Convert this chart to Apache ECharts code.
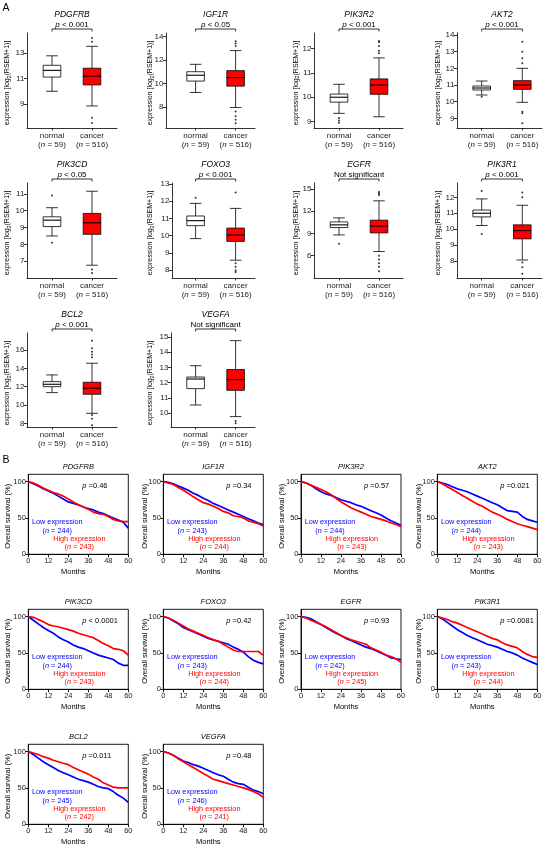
<!DOCTYPE html>
<html><head><meta charset="utf-8">
<script src="https://cdn.jsdelivr.net/npm/echarts@6/dist/echarts.min.js"></script>
<style>html,body{margin:0;padding:0;background:#fff}#c{width:550px;height:849px}</style>
</head><body><div id="c"></div><script>
const FONT = '"Liberation Sans", Arial, Helvetica, sans-serif';

// ---------- data ----------
const genes = ['PDGFRB','IGF1R','PIK3R2','AKT2','PIK3CD','FOXO3','EGFR','PIK3R1','BCL2','VEGFA'];
const groupNames = ['normal','cancer'];
const groupN = [59, 516];
const pTextsA = ['p < 0.001','p < 0.05','p < 0.001','p < 0.001','p < 0.05','p < 0.001','Not significant','p < 0.001','p < 0.001','Not significant'];
// [lower whisker, Q1, median, Q3, upper whisker]
const normalBox = [
  [10.0, 11.12, 11.65, 12.05, 12.8],
  [9.23, 10.2, 10.7, 11.0, 11.63],
  [9.34, 9.8, 10.0, 10.13, 10.53],
  [10.4, 10.7, 10.82, 10.94, 11.24],
  [8.5, 9.06, 9.44, 9.64, 10.18],
  [9.83, 10.58, 10.87, 11.14, 11.87],
  [8.8, 9.8, 10.16, 10.56, 11.1],
  [10.23, 10.77, 11.0, 11.2, 11.9],
  [11.35, 12.0, 12.26, 12.55, 13.28],
  [10.54, 11.61, 12.24, 12.37, 13.11]
];
const cancerBox = [
  [8.84, 10.5, 11.19, 11.82, 13.55],
  [7.95, 9.77, 10.5, 11.09, 12.8],
  [9.2, 10.12, 10.5, 10.75, 11.61],
  [9.96, 10.74, 11.0, 11.26, 12.0],
  [6.76, 8.6, 9.28, 9.84, 11.16],
  [8.58, 9.67, 10.04, 10.44, 11.58],
  [6.57, 9.08, 9.99, 10.79, 13.4],
  [8.06, 9.39, 9.91, 10.27, 11.5],
  [9.09, 11.17, 11.83, 12.48, 14.55],
  [9.78, 11.5, 12.2, 12.86, 14.75]
];
const normalOut = [[],[],[9.15,9.05,8.95],[10.3],[10.9,8.1],[12.2],[7.6],[12.4,9.7],[],[]];
const cancerOut = [
  [14.2,13.9,7.9,7.5],
  [13.6,13.4,13.2,7.6,7.2,6.9,6.6],
  [12.3,12.25,12.1,11.9,11.8],
  [13.6,13.0,12.6,12.3,9.4,9.3,8.7],
  [6.5,6.3],
  [12.5,8.4,8.2,8.0,7.9],
  [14.6,14.4,14.2,6.0,5.5,5.0,4.5,3.9],
  [12.3,12.0,7.9,7.6,7.2],
  [17.0,16.2,15.8,15.5,15.2,8.9,8.5,7.8],
  [9.5,9.35]
];
const yRangeA = [[7.1,14.6],[6.2,14.3],[8.74,12.63],[8.42,14.12],[6.0,11.65],[7.55,13.05],[3.0,15.8],[6.93,12.9],[7.6,17.85],[9.1,15.25]];
const yTicksA = [[9,11,13],[8,10,12,14],[9,10,11,12],[9,10,11,12,13,14],[7,8,9,10,11],[8,9,10,11,12,13],[6,9,12,15],[8,9,10,11,12],[8,10,12,14,16],[10,11,12,13,14,15]];

const months = [0,3,6,9,12,15,18,21,24,27,30,33,36,39,42,45,48,51,54,57,60];
const kmLow = [
  [100,97,94,90,87,84,80,76,72,70,68,65,63,61,58,56,53,50,47,44,36],
  [100,99,97,94,91,88,84,81,77,74,70,67,64,61,58,55,52,49,46,43,41],
  [100,98,95,90,86,83,81,78,75,73,71,68,66,63,60,57,54,50,46,43,40],
  [100,98,96,93,90,88,86,83,80,77,74,71,68,64,60,59,58,52,48,46,44],
  [100,95,90,85,81,77,72,68,65,61,58,56,53,50,47,45,43,41,36,33,33],
  [100,98,94,90,85,82,79,76,73,70,68,66,64,62,58,55,51,45,40,37,35],
  [100,99,97,93,89,85,81,77,74,70,67,64,61,58,56,53,50,47,43,42,41],
  [100,97,92,87,82,78,74,71,68,65,62,60,58,55,52,50,47,43,40,37,34],
  [100,96,91,86,82,78,74,71,68,65,62,60,58,55,52,50,49,45,40,36,30],
  [100,98,95,91,87,85,82,80,77,74,71,68,66,62,58,56,55,51,47,45,42]
];
const kmHigh = [
  [100,98,95,91,88,85,83,80,76,72,68,65,62,58,56,55,52,48,46,45,45],
  [100,98,96,92,88,84,79,75,71,69,66,63,59,57,53,52,50,46,44,42,39],
  [100,98,95,92,89,86,82,77,72,68,64,61,58,55,52,50,48,46,43,41,38],
  [100,97,93,89,85,81,77,73,69,66,62,58,55,52,48,45,42,40,38,36,34],
  [100,99,96,93,89,87,86,84,82,80,77,75,73,71,67,63,60,56,55,53,47],
  [100,98,95,91,87,83,80,77,74,71,68,66,62,58,54,52,52,52,52,52,47],
  [100,98,95,92,89,86,82,78,74,71,68,66,64,62,57,54,51,47,45,42,37],
  [100,98,96,93,91,88,85,82,79,76,73,70,68,64,61,59,57,52,48,45,44],
  [100,98,96,93,91,88,86,84,82,78,75,72,69,65,62,57,54,51,50,50,50],
  [100,98,95,90,86,82,78,74,70,66,62,60,58,56,54,52,50,48,45,42,37]
];
const pTextsB = ['=0.46','=0.34','=0.57','=0.021','< 0.0001','=0.42','=0.93','=0.0081','=0.011','=0.48'];
const nLow = [244,243,244,244,244,243,242,243,245,246];
const nHigh = [243,244,243,243,243,244,245,244,242,241];
const kmYTicks = [0,50,100];
const kmXTicks = [0,12,24,36,48,60];

// ---------- layout ----------
const A_rowTop = [33,183,333], A_rowBot = [128,278,427];
const A_cols = [
  {left:27, right:117, c0:52, c1:92, nameX:7.5},
  {left:167, right:255, c0:195.6, c1:235.6, nameX:150.5},
  {left:314, right:403, c0:339, c1:379, nameX:295.7},
  {left:457, right:542, c0:481.7, c1:522.3, nameX:438}
];
const A_col1Left = [166,172,171];
const B_colLeft = [28.3,163.3,301,437.3], B_nameX = [8.3,144.5,281.7,419];
const B_rowTop = [474.3,609.3,744.3];
const B_W = 100, B_H = 80;
const BLUE = '#0000ff', RED = '#ff0000';

const grid=[], xAxis=[], yAxis=[], series=[], graphic=[];

function rich(parts){ return parts.map(p => '{'+p[1]+'|'+p[0]+'}').join(''); }
function tok(size, opt){ opt=opt||{}; return {fontSize:size, fontFamily:FONT, fontStyle:opt.italic?'italic':'normal', fill:opt.color||'#000', color:opt.color||'#000', lineHeight:opt.lh||size+2, verticalAlign:opt.va||'middle'}; }
function T(x, y, parts, richDef, opt){
  opt = opt||{};
  return {type:'text', x:x, y:y, rotation:opt.rot||0, silent:true, z:10,
    style:{text:rich(parts), x:0, y:0, rich:richDef, textAlign:opt.align||'center', align:opt.align||'center',
      textVerticalAlign:'middle', verticalAlign:'middle', fill:opt.color||'#000', font:(opt.size||8)+'px '+FONT}};
}

graphic.push(T(6, 8, [['A','r']], {r:tok(10.5)}));
graphic.push(T(6, 460.5, [['B','r']], {r:tok(10.5)}));

// ---------- panel A: box plots ----------
function renderBox(params, api){
  const x = api.value(0);
  const lo = api.coord([x, api.value(1)]), q1 = api.coord([x, api.value(2)]),
        md = api.coord([x, api.value(3)]), q3 = api.coord([x, api.value(4)]), hi = api.coord([x, api.value(5)]);
  const hw = 8.8, cw = 5.8, cx = lo[0];
  const ls = {stroke:'#000', lineWidth:0.8};
  return {type:'group', children:[
    {type:'line', shape:{x1:cx,y1:lo[1],x2:cx,y2:q1[1]}, style:ls},
    {type:'line', shape:{x1:cx,y1:q3[1],x2:cx,y2:hi[1]}, style:ls},
    {type:'line', shape:{x1:cx-cw,y1:lo[1],x2:cx+cw,y2:lo[1]}, style:ls},
    {type:'line', shape:{x1:cx-cw,y1:hi[1],x2:cx+cw,y2:hi[1]}, style:ls},
    {type:'rect', shape:{x:cx-hw,y:q3[1],width:2*hw,height:q1[1]-q3[1]}, style:{fill:x===0?'#ffffff':RED, stroke:'#000', lineWidth:0.8}},
    {type:'line', shape:{x1:cx-hw,y1:md[1],x2:cx+hw,y2:md[1]}, style:{stroke:'#000', lineWidth:1.1}}
  ]};
}
function renderBracket(params, api){
  const p0 = api.coord([0, api.value(1)]), p1 = api.coord([1, api.value(1)]);
  const y = p0[1] - 4;
  return {type:'polyline', shape:{points:[[p0[0],y+2.5],[p0[0],y],[p1[0],y],[p1[0],y+2.5]]}, style:{stroke:'#000', fill:null, lineWidth:0.8}};
}

genes.forEach((g, i) => {
  const r = Math.floor(i/4), c = i%4, L = A_cols[c];
  const left = c===1 ? A_col1Left[r] : L.left;
  const top = A_rowTop[r], bot = A_rowBot[r];
  const gi = grid.length;
  grid.push({left:left, top:top, width:L.right-left, height:bot-top, containLabel:false});
  const sp = L.c1 - L.c0;
  xAxis.push({gridIndex:gi, type:'value', min:-(L.c0-left)/sp, max:1+(L.right-L.c1)/sp,
    axisLine:{show:true, onZero:false, lineStyle:{color:'#000', width:0.8}},
    axisTick:{show:true, customValues:[0,1], length:2.5, lineStyle:{color:'#000', width:0.8}},
    axisLabel:{show:true, customValues:[0,1], margin:3, fontSize:8, fontFamily:FONT, color:'#222', lineHeight:9,
      formatter: v => { const k = Math.round(v); return groupNames[k] + '\n({i|n} = ' + groupN[k] + ')'; },
      rich:{i:{fontStyle:'italic', fontSize:8, fontFamily:FONT, color:'#222', lineHeight:9}}},
    splitLine:{show:false}});
  yAxis.push({gridIndex:gi, type:'value', min:yRangeA[i][0], max:yRangeA[i][1],
    axisLine:{show:true, onZero:false, lineStyle:{color:'#000', width:0.8}},
    axisTick:{show:true, customValues:yTicksA[i], length:3, lineStyle:{color:'#000', width:0.8}},
    axisLabel:{show:true, customValues:yTicksA[i], margin:2.5, fontSize:8, fontFamily:FONT, color:'#222'},
    splitLine:{show:false}});
  series.push({type:'custom', xAxisIndex:gi, yAxisIndex:gi, silent:true, clip:false, z:2,
    renderItem: renderBox, encode:{x:0, y:[1,2,3,4,5]},
    data:[[0].concat(normalBox[i]), [1].concat(cancerBox[i])]});
  series.push({type:'scatter', xAxisIndex:gi, yAxisIndex:gi, silent:true, z:3, symbolSize:2,
    itemStyle:{color:'#000'},
    data: normalOut[i].map(v => [0, v]).concat(cancerOut[i].map(v => [1, v]))});
  series.push({type:'custom', xAxisIndex:gi, yAxisIndex:gi, silent:true, clip:false,
    renderItem: renderBracket, encode:{x:0, y:1}, data:[[0, yRangeA[i][1]]]});
  const cx = (L.c0 + L.c1)/2;
  graphic.push(T(cx, top-18, [[g,'i']], {i:tok(8.5,{italic:true})}));
  const pt = pTextsA[i];
  if (pt.startsWith('p')) graphic.push(T(cx, top-8.5, [['p','i'],[pt.slice(1),'r']], {i:tok(8,{italic:true}), r:tok(8)}));
  else graphic.push(T(cx, top-8.5, [[pt,'r']], {r:tok(8)}));
  graphic.push(T(L.nameX, top+50, [['expression [log','r'],['2','s'],['(RSEM+1)]','r']],
    {r:tok(7,{lh:9}), s:tok(5,{lh:5, va:'bottom'})}, {rot:Math.PI/2}));
});

// ---------- panel B: survival curves ----------
genes.forEach((g, i) => {
  const r = Math.floor(i/4), c = i%4;
  const left = B_colLeft[c], top = B_rowTop[r];
  const gi = grid.length;
  grid.push({left:left, top:top, width:B_W, height:B_H, show:true, borderColor:'#000', borderWidth:0.9, backgroundColor:'transparent', containLabel:false});
  xAxis.push({gridIndex:gi, type:'value', min:0, max:60, interval:12,
    axisLine:{show:true, onZero:false, lineStyle:{color:'#000', width:0.9}},
    axisTick:{show:true, length:3, lineStyle:{color:'#000', width:0.9}},
    axisLabel:{show:true, customValues:kmXTicks, margin:2.5, fontSize:7.5, fontFamily:FONT, color:'#222'},
    splitLine:{show:false}});
  yAxis.push({gridIndex:gi, type:'value', min:0, max:110,
    axisLine:{show:true, onZero:false, lineStyle:{color:'#000', width:0.9}},
    axisTick:{show:true, customValues:kmYTicks, length:3, lineStyle:{color:'#000', width:0.9}},
    axisLabel:{show:true, customValues:kmYTicks, margin:2.5, fontSize:7.5, fontFamily:FONT, color:'#222'},
    splitLine:{show:false}});
  series.push({type:'line', xAxisIndex:gi, yAxisIndex:gi, silent:true, showSymbol:false, symbol:'none', z:3,
    lineStyle:{color:BLUE, width:1.7}, data: months.map((m, j) => [m, kmLow[i][j]])});
  series.push({type:'line', xAxisIndex:gi, yAxisIndex:gi, silent:true, showSymbol:false, symbol:'none', z:4,
    lineStyle:{color:RED, width:1.7}, data: months.map((m, j) => [m, kmHigh[i][j]])});
  graphic.push(T(left+50, top-7, [[g,'i']], {i:tok(7.5,{italic:true})}));
  graphic.push(T(left + (c===0 ? 54 : 63), top+11.5, [['p','i'],[' '+pTextsB[i],'r']], {i:tok(7.5,{italic:true}), r:tok(7.5)}, {align:'left'}));
  graphic.push(T(left+29, top+48, [['Low expression','r']], {r:tok(7.3,{color:BLUE})}));
  graphic.push(T(left+29, top+56.3, [['(','r'],['n','i'],[' = '+nLow[i]+')','r']], {r:tok(7.3,{color:BLUE}), i:tok(7.3,{color:BLUE, italic:true})}));
  graphic.push(T(left+51, top+64.7, [['High expression','r']], {r:tok(7.3,{color:RED})}));
  graphic.push(T(left+51, top+73, [['(','r'],['n','i'],[' = '+nHigh[i]+')','r']], {r:tok(7.3,{color:RED}), i:tok(7.3,{color:RED, italic:true})}));
  graphic.push(T(left+45, top+97.7, [['Months','r']], {r:tok(7.5)}));
  graphic.push(T(B_nameX[c], top+42, [['Overall survival (%)','r']], {r:tok(7.5)}, {rot:Math.PI/2}));
});

const chart = echarts.init(document.getElementById('c'), null, {renderer:'canvas'});
chart.setOption({animation:false, backgroundColor:'#fff', grid, xAxis, yAxis, series, graphic});
</script></body></html>
